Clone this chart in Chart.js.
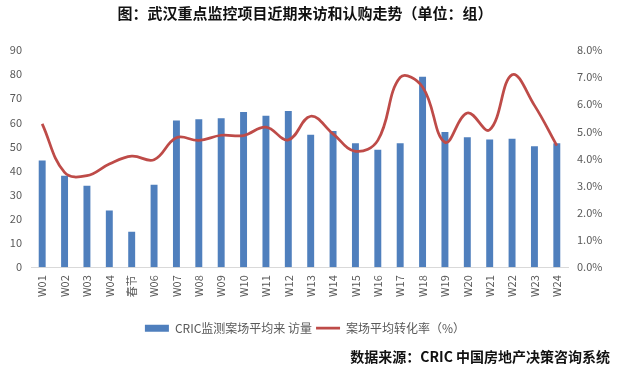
<!DOCTYPE html>
<html>
<head>
<meta charset="utf-8">
<script src="https://cdn.jsdelivr.net/npm/chart.js@4/dist/chart.umd.min.js"></script>
<style>
html,body{margin:0;padding:0;background:#fff;}
#wrap{width:620px;height:370px;position:relative;}
</style>
</head>
<body>
<div id="wrap"><canvas id="c" width="620" height="370"></canvas></div>
<script>
const weeks = ['W01','W02','W03','W04','春节','W06','W07','W08','W09','W10','W11','W12','W13','W14','W15','W16','W17','W18','W19','W20','W21','W22','W23','W24'];
const visits = [44.2, 37.9, 33.8, 23.5, 14.7, 34.2, 60.8, 61.3, 61.7, 64.3, 62.8, 64.7, 54.9, 56.4, 51.4, 48.7, 51.4, 78.9, 56.0, 53.8, 52.9, 53.2, 50.1, 51.4];
const rates = [5.28, 3.49, 3.37, 3.80, 4.09, 3.96, 4.77, 4.67, 4.86, 4.85, 5.16, 4.69, 5.56, 4.91, 4.27, 4.67, 6.99, 6.64, 4.60, 5.68, 5.06, 7.09, 5.96, 4.48];
const leftTicks = [0,10,20,30,40,50,60,70,80,90];
const rightTicks = [0,1,2,3,4,5,6,7,8];
const seriesNames = ['CRIC监测案场平均来 访量', '案场平均转化率（%）'];
const titleText = '图：武汉重点监控项目近期来访和认购走势（单位：组）';
const sourceText = '数据来源：CRIC 中国房地产决策咨询系统';

const FONT = '"Noto Sans CJK SC", "Noto Sans", sans-serif';
const GREY = '#595959';

new Chart(document.getElementById('c'), {
  data: {
    labels: weeks,
    datasets: [
      {
        type: 'bar',
        label: seriesNames[0],
        data: visits,
        backgroundColor: '#4F7FBD',
        borderWidth: 0,
        categoryPercentage: 1,
        barPercentage: 0.31,
        yAxisID: 'y',
        order: 1,
        pointStyle: 'rect'
      },
      {
        type: 'line',
        label: seriesNames[1],
        data: rates,
        borderColor: '#BE4B48',
        backgroundColor: '#BE4B48',
        borderWidth: 2.75,
        pointRadius: 0,
        tension: 0.4,
        yAxisID: 'y1',
        order: 0,
        pointStyle: 'line'
      }
    ]
  },
  options: {
    responsive: false,
    animation: false,
    devicePixelRatio: 1,
    layout: { padding: { left: 0, right: 10, top: 0, bottom: 0 } },
    plugins: {
      tooltip: { enabled: false },
      title: {
        display: true,
        text: titleText,
        color: '#111',
        font: { family: FONT, size: 15, weight: 'bold' },
        padding: { top: 4, bottom: 28 }
      },
      subtitle: {
        display: true,
        text: sourceText,
        position: 'bottom',
        align: 'end',
        color: '#111',
        font: { family: FONT, size: 14, weight: 'bold' },
        padding: { top: 4, bottom: 5 }
      },
      legend: {
        position: 'bottom',
        labels: {
          usePointStyle: true,
          pointStyleWidth: 24,
          boxHeight: 7,
          color: GREY,
          padding: 4,
          font: { family: FONT, size: 12 },
          sort: (a, b) => a.datasetIndex - b.datasetIndex
        }
      }
    },
    scales: {
      x: {
        grid: { display: false, drawTicks: false },
        border: { display: true, color: '#D9D9D9', width: 1 },
        ticks: {
          color: GREY,
          font: { family: FONT, size: 11 },
          minRotation: 90,
          maxRotation: 90,
          autoSkip: false,
          padding: 8
        },
        afterFit: (s) => { s.height = 51; }
      },
      y: {
        position: 'left',
        min: 0, max: 90,
        afterBuildTicks: (s) => { s.ticks = leftTicks.map(v => ({ value: v })); },
        grid: { display: false, drawTicks: false },
        border: { display: false },
        ticks: {
          color: GREY,
          font: { family: FONT, size: 11 },
          padding: 9
        },
        afterFit: (s) => { s.width = 31; }
      },
      y1: {
        position: 'right',
        min: 0, max: 8,
        afterBuildTicks: (s) => { s.ticks = rightTicks.map(v => ({ value: v })); },
        grid: { display: false, drawTicks: false },
        border: { display: false },
        ticks: {
          color: GREY,
          font: { family: FONT, size: 11 },
          padding: 9,
          callback: (v) => Number(v).toFixed(1) + '%'
        },
        afterFit: (s) => { s.width = 42; }
      }
    }
  }
});
</script>
</body>
</html>
